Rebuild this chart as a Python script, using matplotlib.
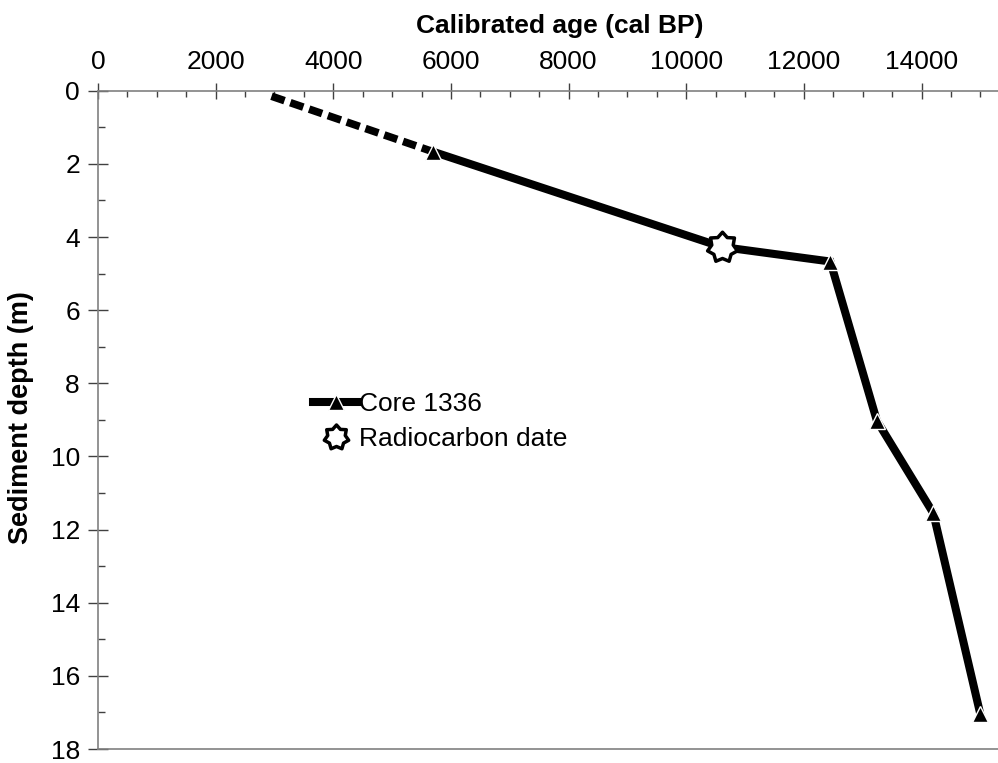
import numpy as np
import matplotlib
matplotlib.use("Agg")
import matplotlib.pyplot as plt
from matplotlib.lines import Line2D
from matplotlib.path import Path
from matplotlib.ticker import MultipleLocator

plt.rcParams['font.family'] = ['Liberation Sans', 'DejaVu Sans']

# extrapolated top of the core (dashed)
extrap_age = [2950, 5700]
extrap_depth = [0.15, 1.67]

# age-depth line of core 1336 (through the radiocarbon date)
line_age = [5700, 10600, 12450, 13240, 14200, 15000]
line_depth = [1.67, 4.27, 4.67, 9.02, 11.55, 17.05]

# triangles (core 1336 tie points)
tri_age = [5700, 12450, 13240, 14200, 15000]
tri_depth = [1.67, 4.67, 9.02, 11.55, 17.05]

# radiocarbon date
c14_age = [10600]
c14_depth = [4.27]

# 7-point star marker with shallow points
n = 7
ang = np.pi / 2 + np.arange(2 * n) * np.pi / n
rad = np.where(np.arange(2 * n) % 2 == 0, 1.0, 0.72)
verts = np.column_stack([rad * np.cos(ang), rad * np.sin(ang)])
verts = np.vstack([verts, verts[:1]])
codes = [Path.MOVETO] + [Path.LINETO] * (2 * n - 1) + [Path.CLOSEPOLY]
star = Path(verts, codes)

fig = plt.figure(figsize=(9.98, 7.63), dpi=100)
ax = fig.add_axes([0.0982, 0.0183, 0.9018, 0.8628])

ax.plot(extrap_age, extrap_depth, color='black', lw=5.5, dashes=(1.8, 0.8),
        solid_capstyle='butt', zorder=2)
ax.plot(line_age, line_depth, color='black', lw=5.8, zorder=2,
        solid_joinstyle='miter')
ax.plot(tri_age, tri_depth, ls='none', marker='^', ms=12, color='black',
        mec='white', mew=1.0, zorder=3)
ax.plot(c14_age, c14_depth, ls='none', marker=star, ms=22, mfc='white',
        mec='black', mew=2.5, zorder=4)

ax.set_xlim(0, 15300)
ax.set_ylim(18, 0)

ax.xaxis.set_major_locator(MultipleLocator(2000))
ax.xaxis.set_minor_locator(MultipleLocator(500))
ax.yaxis.set_major_locator(MultipleLocator(2))
ax.yaxis.set_minor_locator(MultipleLocator(1))

ax.xaxis.tick_top()
ax.xaxis.set_label_position('top')

for s in ['top', 'left', 'bottom']:
    ax.spines[s].set_color('#808080')
    ax.spines[s].set_linewidth(1.2)
ax.spines['right'].set_visible(False)

ax.tick_params(axis='x', which='major', direction='inout', length=11.5,
               width=1, color='#404040', labelsize=19, pad=6)
ax.tick_params(axis='x', which='minor', direction='in', length=4.3,
               width=1, color='#404040')
ax.tick_params(axis='y', which='major', direction='inout', length=14,
               width=1, color='#404040', labelsize=19, pad=6)
ax.tick_params(axis='y', which='minor', direction='in', length=5,
               width=1, color='#404040')

ax.set_xlabel('Calibrated age (cal BP)', fontsize=19, fontweight='bold')
ax.xaxis.set_label_coords(0.513, 1.088)
ax.set_ylabel('Sediment depth (m)', fontsize=19.5, fontweight='bold')
ax.yaxis.set_label_coords(-0.071, 0.503)

handles = [
    Line2D([], [], color='black', lw=5.8, marker='^', ms=12, mec='white', mew=1.0),
    Line2D([], [], ls='none', marker=star, ms=18, mfc='white', mec='black', mew=2.5),
]
ax.legend(handles, ['Core 1336', 'Radiocarbon date'], loc='upper left',
          bbox_to_anchor=(0.239, 0.542), frameon=False, fontsize=19,
          borderpad=0, borderaxespad=0, handlelength=1.7, handletextpad=0.05,
          labelspacing=0.42)

fig.savefig('out.png', dpi=100)
